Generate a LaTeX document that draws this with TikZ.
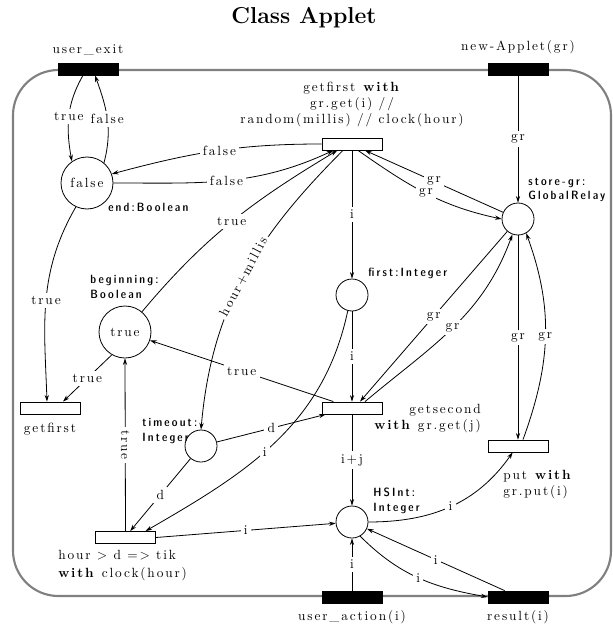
\documentclass[tikz,border=0pt]{standalone}
\usepackage{fontspec}
\usepackage{color}
\usetikzlibrary{arrows.meta}
\definecolor{bordergray}{RGB}{128,128,128}
\newfontfamily\spacedfont{lmroman10}[Extension=.otf,UprightFont=*-regular,BoldFont=*-bold,LetterSpace=14]
\newfontfamily\typefont{lmsansdemicond10}[Extension=.otf,UprightFont=*-regular,LetterSpace=18]

\begin{document}
\begin{tikzpicture}[x=0.75pt,y=-0.75pt,
  place/.style={circle,draw,line width=0.6pt,minimum size=24pt,inner sep=0pt},
  bigplace/.style={place,minimum size=39pt,font=\spacedfont},
  trans/.style={draw,line width=0.6pt,fill=white,minimum width=45pt,minimum height=9pt,inner sep=0pt},
  port/.style={trans,fill=black},
  arc/.style={line width=0.6pt,-{Stealth[length=5pt,width=3.2pt]}},
  lab/.style={fill=white,inner sep=2.5pt,font=\spacedfont},
  txt/.style={inner sep=0pt,font=\spacedfont,align=center},
  typ/.style={inner sep=0pt,font=\small\typefont,align=left,anchor=west}]

\useasboundingbox (0,0) rectangle (613,624);
\draw[bordergray,line width=1.6pt,rounded corners=34pt] (13,70) rectangle (611,596);

\node[inner sep=0pt] (title) at (304,18) {\LARGE\bfseries Class Applet};

\node[port] (userexit) at (88,69) {};
\node[port] (newapplet) at (518,69) {};
\node[port] (useraction) at (352,597) {};
\node[port] (result) at (518,597) {};

\node[trans] (getfirst) at (352,144) {};
\node[trans] (getfirstl) at (50,408) {};
\node[trans] (getsecond) at (352,408) {};
\node[trans] (put) at (518,446) {};
\node[trans] (tik) at (125.5,537.5) {};

\node[bigplace] (endp) at (87,183) {false};
\node[bigplace] (beginning) at (125,332) {true};
\node[place] (storegr) at (518,219) {};
\node[place] (first) at (352,295) {};
\node[place] (timeout) at (201,446) {};
\node[place] (hsint) at (352,522) {};

\node[txt] (userexitlab) at (88,50) {user\_exit};
\node[txt] (newappletlab) at (518,47) {new-Applet(gr)};
\node[txt] (useractionlab) at (352,617) {user\_action(i)};
\node[txt] (resultlab) at (518,617) {result(i)};
\node[txt] (getfirstlab) at (352,104) {getfirst \textbf{with}\\ gr.get(i) //\\ random(millis) // clock(hour)};
\node[txt] (getfirstllab) at (50,429) {getfirst};
\node[txt,align=right,anchor=east] (getsecondlab) at (481,419) {getsecond\\ \textbf{with} gr.get(j)};
\node[txt,align=left,anchor=west] (putlab) at (503,485) {put \textbf{with}\\ gr.put(i)};
\node[txt,align=left,anchor=west] (tiklab) at (58,566) {hour > d => tik\\[1.5pt] \textbf{with} clock(hour)};

\node[typ] (endlab) at (108,207) {end:Boolean};
\node[typ] (beginninglab) at (90,287) {beginning:\\Boolean};
\node[typ] (storegrlab) at (528,190) {store-gr:\\GlobalRelay};
\node[typ] (firstlab) at (368,273) {first:Integer};
\node[typ] (timeoutlab) at (142,431) {timeout:\\Integer};
\node[typ] (hsintlab) at (373,501) {HSInt:\\Integer};

\draw[arc] ([xshift=-3.75pt]userexit.south) to[out=240,in=100] node[lab]{true} (endp.125);
\draw[arc] (endp.50) to[out=75,in=290] node[lab]{false} ([xshift=5.25pt]userexit.south);
\draw[arc] (getfirst.west) to[out=180,in=15] node[lab,pos=0.48]{false} (endp.20);
\draw[arc] (endp.east) to[out=0,in=205] node[lab]{false} ([xshift=-14pt]getfirst.south);
\draw[arc] (beginning.50) to[out=50,in=211] node[lab]{true} ([xshift=-11pt]getfirst.south);
\draw[arc] ([xshift=-6.75pt]getfirst.south) to[out=225,in=85] node[lab,sloped]{hour+millis} (timeout.north);
\draw[arc] (endp.245) to[out=240,in=92] node[lab]{true} ([xshift=-2.25pt]getfirstl.north);
\draw[arc] (beginning.240) -- node[lab]{true} ([xshift=9.75pt]getfirstl.north);
\draw[arc] ([xshift=-14pt]getsecond.north) -- node[lab]{true} (beginning);
\draw[arc] (tik.north) -- node[lab,rotate=-90]{true} (beginning.south);
\draw[arc] (timeout) -- node[lab]{d} ([xshift=3.5pt]tik.north);
\draw[arc] (timeout) -- node[lab]{d} ([xshift=3pt]getsecond.south west);
\draw[arc] (first.255) to[out=258,in=30] node[lab,pos=0.55]{i} ([xshift=15pt]tik.north);
\draw[arc] (getfirst) -- node[lab]{i} (first);
\draw[arc] (first) -- node[lab]{i} (getsecond);
\draw[arc] (getsecond) -- node[lab]{i+j} (hsint);
\draw[arc] (useraction) -- node[lab]{i} (hsint);
\draw[arc] (tik.east) -- node[lab]{i} (hsint);
\draw[arc] (hsint.east) to[out=0,in=235] node[lab]{i} ([xshift=-4pt]put.south);
\draw[arc] ([xshift=-10pt]result.north) -- node[lab]{i} (hsint);
\draw[arc] (hsint.-60) to[out=-45,in=170] node[lab]{i} (result.west);
\draw[arc] (newapplet) -- node[lab]{gr} (storegr);
\draw[arc] (storegr) -- node[lab]{gr} ([xshift=9.75pt]getfirst.south);
\draw[arc] ([xshift=4.5pt]getfirst.south) to[out=-35,in=168] node[lab]{gr} (storegr.west);
\draw[arc] (storegr) -- node[lab]{gr} ([xshift=6pt]getsecond.north);
\draw[arc] ([xshift=9.75pt]getsecond.north) to[out=40,in=250] node[lab]{gr} (storegr.250);
\draw[arc] (storegr) -- node[lab]{gr} (put);
\draw[arc] ([xshift=3.75pt]put.north) to[out=70,in=-70] node[lab]{gr} (storegr.-60);
\end{tikzpicture}
\end{document}
